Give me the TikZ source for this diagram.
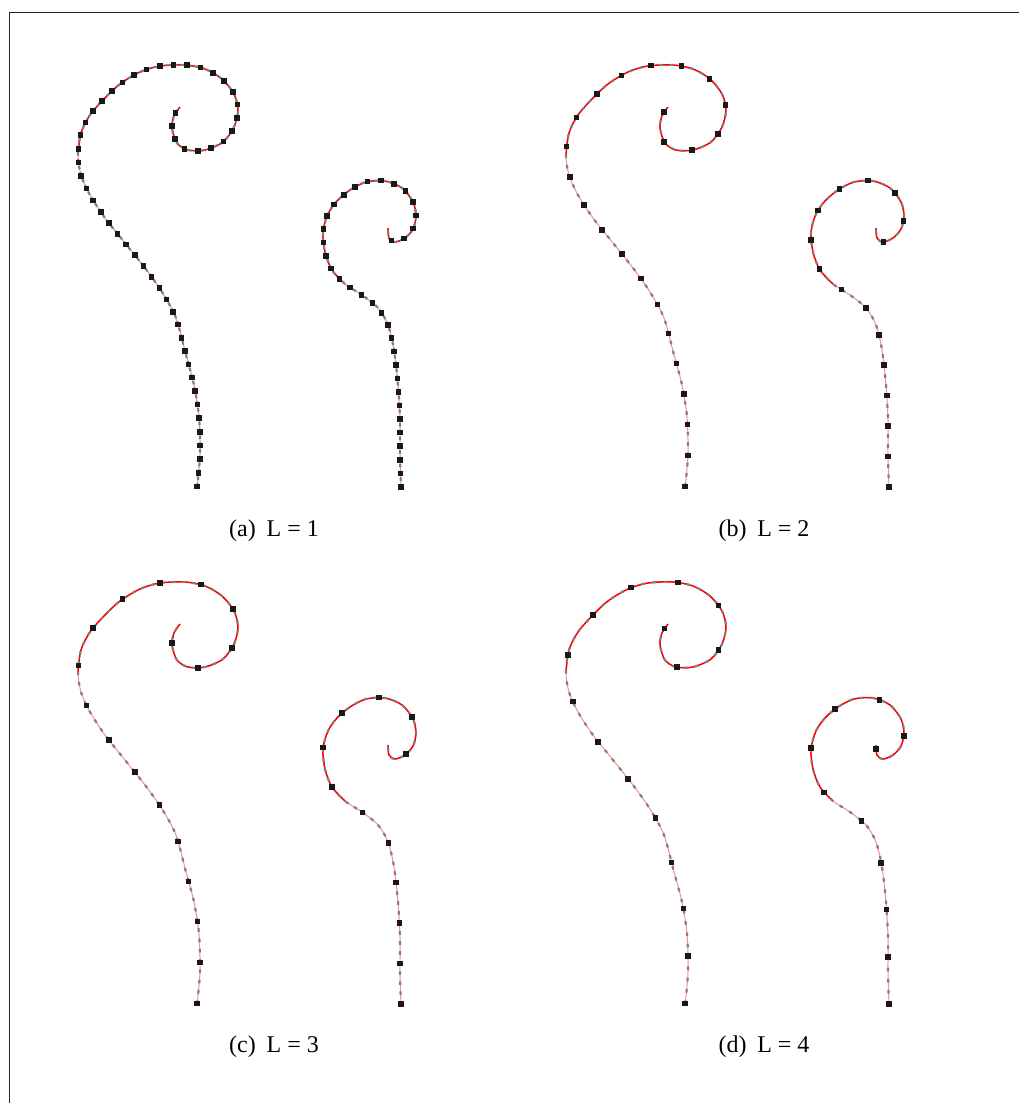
\documentclass[tikz,border=0pt]{standalone}
\usepackage{fontspec}
\setmainfont{Liberation Serif}
\usetikzlibrary{decorations.markings}

\def\bigcurve{(197,488) (200,455) (199,417) (194,385) (186,355) (176,318) (162,292) (145,268) (125,243) (105,218) (90,195) (81,175) (78,155) (81,133) (90,115) (104,99) (120,84) (140,72) (160,66) (185,65) (205,69) (222,79) (234,94) (238,110) (234,127) (223,142) (205,150) (188,150) (177,143) (172,128) (174,116) (180,107)}
\def\bigtop{(78,155) (81,133) (90,115) (104,99) (120,84) (140,72) (160,66) (185,65) (205,69) (222,79) (234,94) (238,110) (234,127) (223,142) (205,150) (188,150) (177,143) (172,128) (174,116) (180,107)}
\def\smallcurve{(401,488) (400,455) (400,420) (398,385) (394,350) (388,325) (378,308) (362,295) (345,284) (332,270) (325,252) (323,232) (328,214) (337,201) (350,190) (366,182) (385,181) (402,188) (413,202) (416,216) (413,229) (405,238) (395,242) (389,238) (388,228)}
\def\smalltop{(345,284) (332,270) (325,252) (323,232) (328,214) (337,201) (350,190) (366,182) (385,181) (402,188) (413,202) (416,216) (413,229) (405,238) (395,242) (389,238) (388,228)}

\tikzset{
  stemline/.style={draw=red!45, line width=1pt},
  topline/.style={draw=red, line width=1.5pt},
  frameline/.style={draw=black!85, line width=1.6pt},
  caption/.style={font=\fontsize{24}{28}\selectfont, inner sep=0pt},
  graymarks/.style={postaction={decorate, decoration={markings,
      mark=between positions 0.004 and 0.996 step #1 with {\fill[black!50] (-1.8pt,-1.1pt) rectangle (1.8pt,1.1pt);}}}},
  blackmarks/.style={postaction={decorate, decoration={markings,
      mark=between positions 0.002 and 0.998 step #1 with {\pgftransformresetnontranslations\fill[black!90] (-2.8pt,-2.8pt) rectangle (2.8pt,2.8pt);}}}}
}

\newcommand\panelcurves[6]{%
  \begin{scope}[shift={(#1,#2)}]
    \draw[stemline] plot[smooth] coordinates {\bigcurve};
    \draw[topline] plot[smooth] coordinates {\bigtop};
    \path[graymarks=#4] plot[smooth] coordinates {\bigcurve};
    \path[blackmarks=#3] plot[smooth] coordinates {\bigcurve};
    \draw[stemline] plot[smooth] coordinates {\smallcurve};
    \draw[topline] plot[smooth] coordinates {\smalltop};
    \path[graymarks=#6] plot[smooth] coordinates {\smallcurve};
    \path[blackmarks=#5] plot[smooth] coordinates {\smallcurve};
  \end{scope}}

\begin{document}
\begin{tikzpicture}[x=1pt,y=-1pt]
  \useasboundingbox (0,0) rectangle (1018,1103);
  \fill[white] (0,0) rectangle (1018,1103);
  \draw[frameline] (9.5,1110) -- (9.5,12.5) -- (1025,12.5);

  \panelcurves{0}{0}{0.019}{0.0095}{0.0285}{0.0143}
  \panelcurves{488}{0}{0.043}{0.0143}{0.064}{0.021}
  \panelcurves{0}{517}{0.057}{0.0143}{0.085}{0.021}
  \panelcurves{488}{517}{0.066}{0.0157}{0.099}{0.0235}

  \node[caption] (capa) at (274,531) {(a)\hspace{0.45em}L = 1};
  \node[caption] (capb) at (764,531) {(b)\hspace{0.45em}L = 2};
  \node[caption] (capc) at (274,1047) {(c)\hspace{0.45em}L = 3};
  \node[caption] (capd) at (764,1047) {(d)\hspace{0.45em}L = 4};
\end{tikzpicture}
\end{document}
